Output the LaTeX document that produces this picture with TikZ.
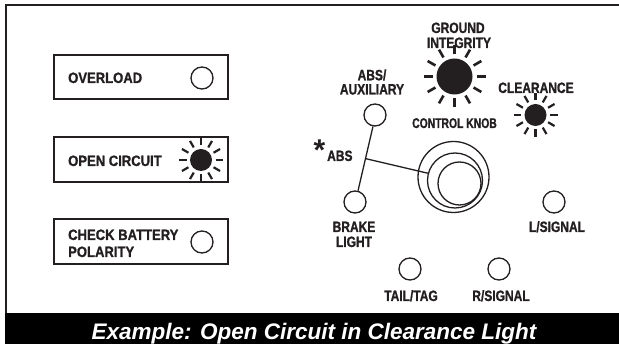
\documentclass[tikz,border=0pt]{standalone}
\usepackage{fontspec}
\usetikzlibrary{calc}
\setmainfont{Liberation Sans}
\newfontfamily\labfontL{Liberation Sans}[FakeStretch=0.87, FakeBold=1]
\newfontfamily\labfontR{Liberation Sans}[FakeStretch=0.80, FakeBold=1]
\newfontfamily\labfontS{Liberation Sans}[FakeStretch=0.74, FakeBold=1]
\definecolor{ink}{RGB}{35,31,32}
\tikzset{
  lab/.style={font=\labfontR\bfseries\fontsize{15}{15}\selectfont, text=ink, inner sep=0, anchor=base},
  labl/.style={lab, anchor=base west, font=\labfontL\bfseries\fontsize{15}{15}\selectfont},
  labsm/.style={lab, font=\labfontS\bfseries\fontsize{14}{14}\selectfont},
  lamp/.style={circle, draw=ink, line width=1.3, minimum size=22, inner sep=0},
  panel/.style={draw=ink, line width=1.5},
  sunc/.style={circle, fill=ink, inner sep=0},
  ray/.style={line width=2.2, draw=ink},
  knob/.style={circle, draw=ink, line width=1.3, inner sep=0},
  wire/.style={draw=ink, line width=1.3}
}
\begin{document}
\begin{tikzpicture}[x=1pt,y=-1pt]
\useasboundingbox (0,0) rectangle (619,344);
\fill[white] (0,0) rectangle (619,344);
% frame and band
\draw[ink, line width=2] (6,313) -- (6,5.5) -- (619,5.5);
\fill[black] (5,313) rectangle (619,344);
\node[anchor=base, inner sep=0, text=white, font=\bfseries\itshape\fontsize{22.5}{22.5}\selectfont] (cap) at (314,340) {Example: Open Circuit in Clearance Light};
% left panels
\draw[panel] (54,55) rectangle (228,99);
\draw[panel] (54,137) rectangle (228,182);
\draw[panel] (54,219) rectangle (228,264);
\node[labl] (ol) at (68,83) {OVERLOAD};
\node[lamp] (olc) at (202,78) {};
\node[labl] (oc) at (68,166) {OPEN CIRCUIT};
\node[sunc, minimum size=22] (ocs) at (201,160) {};
\foreach \a in {0,30,...,330} \draw[ray, line width=2.2] (ocs.center) ++(\a:14.5) -- ++(\a:7.5);
\node[labl] (cb1) at (68,240) {CHECK BATTERY};
\node[labl] (cb2) at (68,257) {POLARITY};
\node[lamp] (cbc) at (202,242) {};
% right side
\node[lab] (gi1) at (458,33) {GROUND};
\node[lab] (gi2) at (459,48) {INTEGRITY};
\node[sunc, minimum size=36] (gis) at (454.5,76.5) {};
\foreach \a in {0,30,...,330} \draw[ray, line width=2.6] (gis.center) ++(\a:22) -- ++(\a:9);
\node[lab, text depth=0pt] (ab1) at (372,80.3) {ABS/};
\node[lab] (ab2) at (372,94.5) {AUXILIARY};
\node[lamp] (aux) at (375,115) {};
\node[lab] (cl) at (536,93) {CLEARANCE};
\node[sunc, minimum size=22] (cls) at (535.5,115) {};
\foreach \a in {0,30,...,330} \draw[ray, line width=2.2] (cls.center) ++(\a:14.5) -- ++(\a:7.5);
\node[labsm] (ck) at (454.5,128) {CONTROL KNOB};
\node[knob, minimum size=71] (k1) at (453.5,177) {};
\node[knob, minimum size=55] (k2) at (455,180.5) {};
\node[knob, minimum size=43] (k3) at (459.5,183.5) {};
\node[lamp] (brake) at (355,202) {};
\node[lab] (br1) at (354,232) {BRAKE};
\node[lab] (br2) at (354,247) {LIGHT};
\node[lab, anchor=base west, font=\bfseries\fontsize{30}{30}\selectfont] (ast) at (313.5,161) {*};
\node[lab, anchor=base west] (absl) at (327,161) {ABS};
\draw[wire] (aux.-100) -- (brake.75);
\coordinate (j) at ($(aux.-100)!0.5!(brake.75)$);
\draw[wire] (j) -- (k2.165);
\node[lamp] (ls) at (554,202) {};
\node[lab] (lsl) at (557,232) {L/SIGNAL};
\node[lamp] (tt) at (410,269) {};
\node[lab] (ttl) at (411,301) {TAIL/TAG};
\node[lamp] (rs) at (499,269) {};
\node[lab] (rsl) at (501,301) {R/SIGNAL};
\end{tikzpicture}
\end{document}
